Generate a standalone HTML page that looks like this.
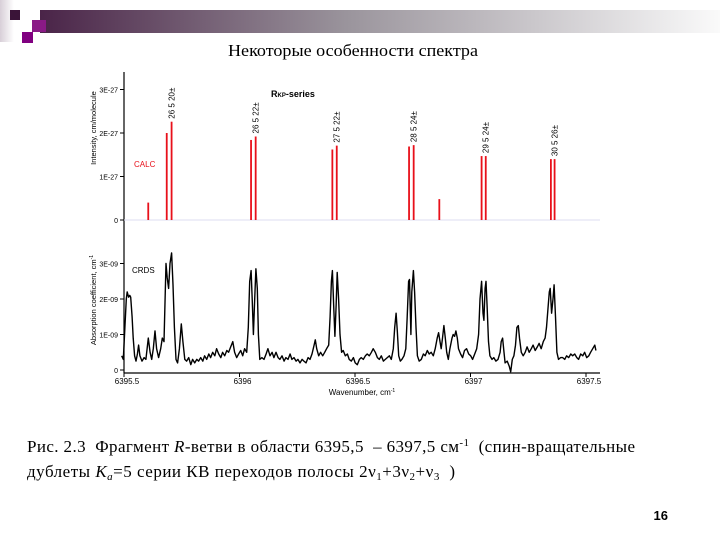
<!DOCTYPE html>
<html><head><meta charset="utf-8">
<style>
html,body{margin:0;padding:0;background:#fff;}
svg{display:block;}
.sans{font-family:"Liberation Sans",sans-serif;}
.serif{font-family:"Liberation Serif","DejaVu Serif",serif;}
</style></head>
<body>
<svg id="chart" width="720" height="540" viewBox="0 0 720 540" xmlns="http://www.w3.org/2000/svg">
<defs>
<linearGradient id="band" x1="0" x2="1" y1="0" y2="0">
<stop offset="0" stop-color="#4a2448"/><stop offset="0.45" stop-color="#9a949c"/><stop offset="1" stop-color="#fafafa"/>
</linearGradient>
<linearGradient id="lbar" x1="0" x2="1" y1="0" y2="0">
<stop offset="0" stop-color="#d8cfd8"/><stop offset="1" stop-color="#ffffff"/>
</linearGradient>
</defs>
<g>
<rect x="0" y="0" width="14" height="42" fill="url(#lbar)"/>
<rect x="40" y="10" width="680" height="23" fill="url(#band)"/>
<rect x="10" y="10" width="10" height="10" fill="#3a1438"/>
<rect x="32" y="20" width="14" height="12" fill="#8a1a86"/>
<rect x="22" y="32" width="11" height="11" fill="#800080"/>
</g>
<text class="serif" x="228" y="56" font-size="16.5" textLength="250" lengthAdjust="spacingAndGlyphs">Некоторые особенности спектра</text>

<g id="plot"></g>

<text class="serif" x="27" y="452" font-size="17" textLength="608" lengthAdjust="spacing" xml:space="preserve">Рис. 2.3  Фрагмент <tspan font-style="italic">R</tspan>-ветви в области 6395,5  – 6397,5 см<tspan font-size="11" dy="-6">-1</tspan><tspan dy="6">  (спин-вращательные</tspan></text>
<text class="serif" x="27" y="477" font-size="17" textLength="428" lengthAdjust="spacing" xml:space="preserve">дублеты <tspan font-style="italic">K</tspan><tspan font-style="italic" font-size="11" dy="3">a</tspan><tspan dy="-3">=5 серии КВ переходов полосы 2ν</tspan><tspan font-size="11" dy="3">1</tspan><tspan dy="-3">+3ν</tspan><tspan font-size="11" dy="3">2</tspan><tspan dy="-3">+ν</tspan><tspan font-size="11" dy="3">3</tspan><tspan dy="-3">  )</tspan></text>
<text class="sans" x="668" y="520" font-size="13" font-weight="bold" text-anchor="end">16</text>
</svg>
<script>
// CALC stick spectrum
const stickWn = [6395.605,6395.685,6395.706,6396.050,6396.070,6396.402,6396.421,6396.734,6396.754,6396.865,6397.048,6397.066,6397.348,6397.364];
const stickInt = [0.40,2.00,2.26,1.84,1.92,1.62,1.71,1.69,1.72,0.48,1.47,1.47,1.40,1.40];
const labelWn = [6395.706,6396.070,6396.421,6396.754,6397.066,6397.364];
const labelText = ["26 5 20±","26 5 22±","27 5 22±","28 5 24±","29 5 24±","30 5 26±"];
const labelInt = [2.26,1.92,1.71,1.72,1.47,1.40];
const topTicks = [0,1,2,3];
const topTickLabels = ["0","1E-27","2E-27","3E-27"];
// CRDS spectrum
const crdsWn = [6395.490,6395.497,6395.504,6395.510,6395.514,6395.520,6395.525,6395.529,6395.535,6395.540,6395.546,6395.552,6395.558,6395.563,6395.569,6395.578,6395.587,6395.595,6395.605,6395.613,6395.620,6395.627,6395.634,6395.641,6395.650,6395.659,6395.666,6395.673,6395.682,6395.687,6395.693,6395.699,6395.706,6395.712,6395.718,6395.725,6395.732,6395.740,6395.748,6395.755,6395.763,6395.771,6395.780,6395.789,6395.797,6395.806,6395.815,6395.823,6395.832,6395.841,6395.849,6395.858,6395.867,6395.875,6395.884,6395.893,6395.901,6395.910,6395.919,6395.927,6395.936,6395.945,6395.953,6395.962,6395.971,6395.979,6395.988,6395.996,6396.005,6396.014,6396.022,6396.031,6396.038,6396.044,6396.050,6396.055,6396.060,6396.066,6396.071,6396.077,6396.082,6396.088,6396.097,6396.106,6396.115,6396.123,6396.132,6396.141,6396.149,6396.158,6396.167,6396.175,6396.184,6396.193,6396.201,6396.210,6396.219,6396.227,6396.236,6396.245,6396.253,6396.262,6396.271,6396.279,6396.288,6396.297,6396.305,6396.314,6396.323,6396.328,6396.334,6396.343,6396.351,6396.360,6396.369,6396.377,6396.386,6396.392,6396.398,6396.402,6396.408,6396.413,6396.418,6396.423,6396.429,6396.435,6396.442,6396.449,6396.458,6396.467,6396.475,6396.484,6396.493,6396.501,6396.510,6396.519,6396.527,6396.536,6396.545,6396.553,6396.562,6396.571,6396.579,6396.588,6396.597,6396.605,6396.614,6396.623,6396.631,6396.640,6396.649,6396.657,6396.666,6396.672,6396.678,6396.683,6396.689,6396.696,6396.703,6396.712,6396.720,6396.726,6396.732,6396.736,6396.742,6396.746,6396.753,6396.758,6396.764,6396.770,6396.778,6396.787,6396.796,6396.804,6396.813,6396.821,6396.830,6396.839,6396.847,6396.856,6396.862,6396.868,6396.873,6396.879,6396.885,6396.891,6396.897,6396.904,6396.911,6396.920,6396.925,6396.931,6396.937,6396.943,6396.948,6396.957,6396.966,6396.974,6396.983,6396.992,6397.001,6397.009,6397.018,6397.027,6397.035,6397.041,6397.048,6397.054,6397.058,6397.063,6397.067,6397.072,6397.078,6397.084,6397.093,6397.101,6397.110,6397.119,6397.128,6397.133,6397.139,6397.145,6397.150,6397.159,6397.168,6397.174,6397.181,6397.188,6397.195,6397.201,6397.207,6397.212,6397.220,6397.228,6397.237,6397.245,6397.254,6397.263,6397.271,6397.280,6397.289,6397.297,6397.306,6397.315,6397.323,6397.329,6397.335,6397.341,6397.345,6397.351,6397.357,6397.362,6397.368,6397.374,6397.381,6397.390,6397.399,6397.408,6397.416,6397.425,6397.434,6397.442,6397.451,6397.460,6397.468,6397.477,6397.486,6397.494,6397.503,6397.512,6397.520,6397.529,6397.538,6397.543];
const crdsAbs = [0.4,0.3,1.2,2.0,2.2,2.05,2.1,2.05,1.5,0.9,0.4,0.25,0.45,0.7,0.4,0.25,0.35,0.3,0.9,0.5,0.3,0.6,1.1,0.6,0.35,0.6,0.9,0.8,3.0,2.6,2.3,3.0,3.3,2.4,1.2,0.3,0.2,0.6,1.3,0.8,0.3,0.25,0.35,0.15,0.3,0.2,0.3,0.25,0.35,0.25,0.4,0.3,0.45,0.35,0.5,0.4,0.6,0.45,0.35,0.5,0.4,0.55,0.5,0.65,0.8,0.5,0.35,0.45,0.55,0.4,0.6,0.5,1.2,2.5,2.8,2.0,1.0,2.0,2.85,2.3,1.0,0.3,0.35,0.3,0.45,0.6,0.4,0.5,0.35,0.5,0.35,0.3,0.4,0.25,0.35,0.3,0.45,0.3,0.35,0.25,0.3,0.2,0.3,0.25,0.2,0.35,0.3,0.45,0.7,0.85,0.6,0.4,0.5,0.4,0.5,0.6,0.7,1.5,2.5,2.8,1.8,0.95,1.8,2.75,2.0,1.0,0.5,0.55,0.4,0.45,0.3,0.25,0.35,0.2,0.15,0.3,0.35,0.3,0.4,0.45,0.4,0.5,0.6,0.5,0.35,0.3,0.4,0.25,0.3,0.35,0.4,0.3,0.6,1.2,1.6,1.1,0.4,0.25,0.3,0.4,0.6,1.5,2.5,2.55,1.0,2.2,2.8,2.2,1.2,0.4,0.25,0.3,0.45,0.4,0.55,0.45,0.5,0.4,0.6,0.9,1.05,0.8,0.6,0.9,1.25,0.9,0.5,0.3,0.6,0.9,1.0,0.95,1.1,0.9,0.6,0.45,0.35,0.55,0.6,0.45,0.4,0.3,0.45,0.6,1.0,2.0,2.5,1.6,1.4,2.3,2.5,1.8,0.8,0.4,0.3,0.35,0.25,0.3,0.5,0.8,0.9,0.5,0.2,0.25,0.1,-0.05,0.3,0.4,0.7,1.2,1.25,0.9,0.5,0.4,0.5,0.65,0.5,0.6,0.7,0.55,0.65,0.75,0.6,0.8,0.9,1.2,1.7,2.2,2.3,1.6,2.0,2.4,1.5,0.5,0.3,0.35,0.35,0.3,0.4,0.35,0.45,0.4,0.45,0.35,0.3,0.45,0.4,0.5,0.35,0.4,0.5,0.6,0.7,0.55];
const botTicks = [0,1,2,3];
const botTickLabels = ["0","1E-09","2E-09","3E-09"];
const xTicks = [6395.5,6396,6396.5,6397,6397.5];
const xTickLabels = ["6395.5","6396","6396.5","6397","6397.5"];

const NS = "http://www.w3.org/2000/svg";
const plot = document.getElementById('plot');
const X = w => 124 + (w - 6395.5) * 231;
const YT = v => 220 - v * 43.5;
const YB = v => 370 - v * 35.5;
function mk(tag, attrs, parent){ const e=document.createElementNS(NS,tag); for(const k in attrs) e.setAttribute(k,attrs[k]); (parent||plot).appendChild(e); return e; }

let ax = mk('line',{x1:124,y1:72,x2:124,y2:373,stroke:'#000','stroke-width':1.2});


let bx = mk('line',{x1:124,y1:373,x2:600,y2:373,stroke:'#000','stroke-width':1.2});


let zt = mk('line',{x1:124,y1:220,x2:600,y2:220,stroke:'#dcdcf0','stroke-width':1});



topTicks.forEach((v,i)=>{
  const t = mk('line',{x1:120,y1:YT(v),x2:124,y2:YT(v),stroke:'#000'});
  
  
  const l = mk('text',{x:118,y:YT(v)+3,'font-size':7,'text-anchor':'end',class:'sans'});
  
  
  l.textContent = topTickLabels[i];
});
botTicks.forEach((v,i)=>{
  const t = mk('line',{x1:120,y1:YB(v),x2:124,y2:YB(v),stroke:'#000'});
  
  
  const l = mk('text',{x:118,y:YB(v)+3,'font-size':7,'text-anchor':'end',class:'sans'});
  
  
  l.textContent = botTickLabels[i];
});
xTicks.forEach((w,i)=>{
  const t = mk('line',{x1:X(w),y1:373,x2:X(w),y2:377,stroke:'#000'});
  
  
  const l = mk('text',{x:X(w)+3,y:384,'font-size':8,'text-anchor':'middle',class:'sans'});
  
  
  l.textContent = xTickLabels[i];
});

stickWn.forEach((w,i)=>{
  const s = mk('line',{x1:X(w),y1:220,x2:X(w),y2:YT(stickInt[i]),stroke:'#e8101a','stroke-width':1.8});
  
  
});
labelWn.forEach((w,i)=>{
  const x = X(w)+3, y = YT(labelInt[i])-3;
  const l = mk('text',{x:x,y:y,'font-size':8,class:'sans',transform:`rotate(-90 ${x} ${y})`});
  
  
  l.textContent = labelText[i];
});

let d = crdsWn.map((w,i)=>(i?'L':'M')+X(w).toFixed(1)+' '+YB(crdsAbs[i]).toFixed(1)).join(' ');
const p = mk('path',{d:d,fill:'none',stroke:'#000','stroke-width':1.4,'stroke-linejoin':'round'});



const c1 = mk('text',{x:134,y:167,'font-size':8,fill:'#e8101a',class:'sans'});


c1.textContent='CALC';
const c2 = mk('text',{x:132,y:273,'font-size':8,class:'sans'});


c2.textContent='CRDS';
const rs = mk('text',{x:271,y:97,'font-size':9,'font-weight':'bold',class:'sans'});


rs.innerHTML='R<tspan font-size="6">KP</tspan>-series';
const yt1 = mk('text',{x:96,y:128,'font-size':7.5,'text-anchor':'middle',class:'sans',transform:'rotate(-90 96 128)'});


yt1.textContent='Intensity, cm/molecule';
const yt2 = mk('text',{x:96,y:300,'font-size':7.5,'text-anchor':'middle',class:'sans',transform:'rotate(-90 96 300)'});


yt2.innerHTML='Absorption coefficient, cm<tspan font-size="5" dy="-3">-1</tspan>';
const xt = mk('text',{x:362,y:395,'font-size':8,'text-anchor':'middle',class:'sans'});


xt.innerHTML='Wavenumber, cm<tspan font-size="5" dy="-3">-1</tspan>';
</script>
</body></html>
